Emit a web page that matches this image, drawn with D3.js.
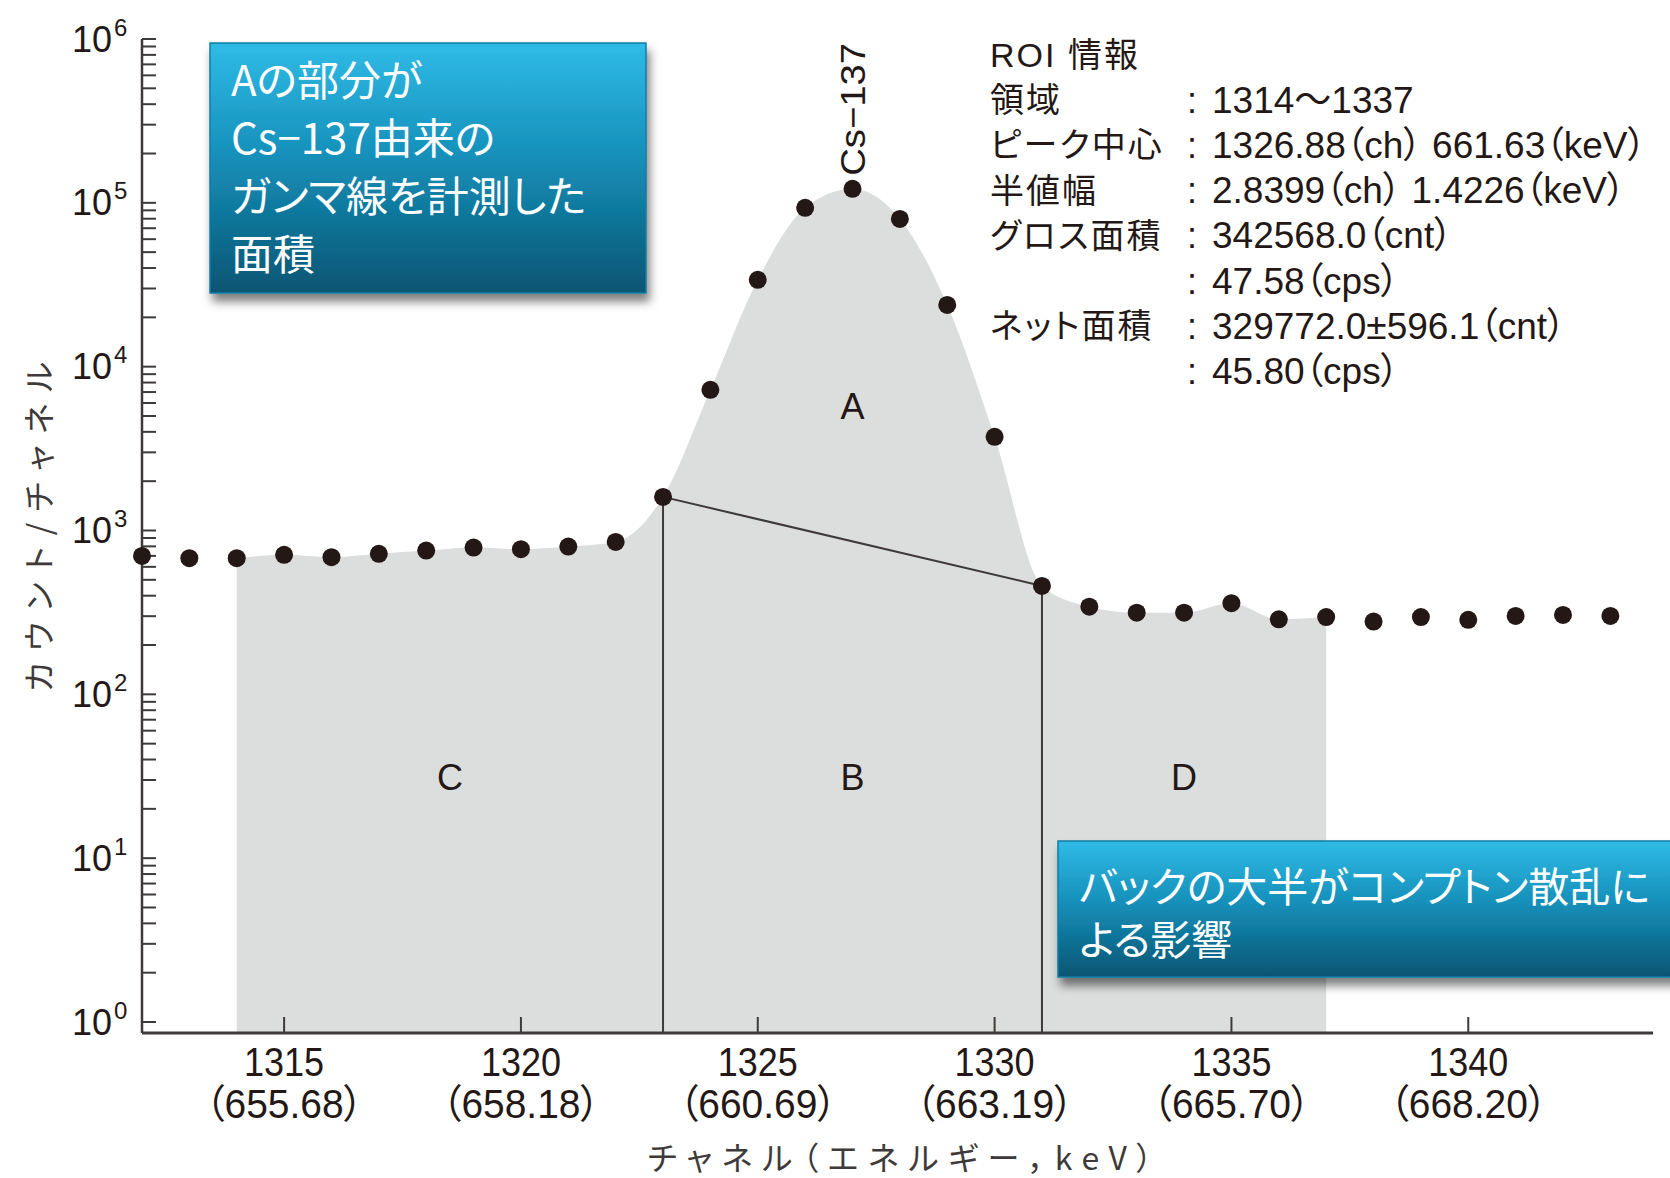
<!DOCTYPE html>
<html lang="ja">
<head>
<meta charset="utf-8">
<title>Cs-137 ROI spectrum</title>
<script src="https://cdn.jsdelivr.net/npm/d3@7/dist/d3.min.js"></script>
<style>
  html, body { margin: 0; padding: 0; background: #fff; }
  svg { display: block; font-feature-settings: "palt"; }
</style>
</head>
<body>
<div id="chart"></div>
<script>
// channel numbers and counts per channel
const channels = [1312, 1313, 1314, 1315, 1316, 1317, 1318, 1319, 1320, 1321, 1322,
  1323, 1324, 1325, 1326, 1327, 1328, 1329, 1330, 1331, 1332, 1333, 1334, 1335,
  1336, 1337, 1338, 1339, 1340, 1341, 1342, 1343];
const counts = [700, 678, 678, 710, 687, 720, 754, 787, 769, 798, 851,
  1604, 7220, 33900, 93200, 121700, 79800, 23800, 3730, 459, 343, 315, 315, 360,
  287, 296, 278, 296, 285, 301, 305, 301];

const xTickChannels = [1315, 1320, 1325, 1330, 1335, 1340];
const xTickEnergies = ['655.68', '658.18', '660.69', '663.19', '665.70', '668.20'];
const yTickExponents = [0, 1, 2, 3, 4, 5, 6];

const roiRange = [1314, 1337];
const netRange = [1323, 1331];
const peakChannel = 1327;

const areaNames = ['A', 'B', 'C', 'D'];
const areaCenters = [1327, 1327, 1318.5, 1334];
const areaLevels = [5700, 31, 31, 31];

const roiLabels = ['ROI 情報', '領域', 'ピーク中心', '半値幅', 'グロス面積', '', 'ネット面積', ''];
const roiValues = ['', '1314～1337', '1326.88（ch） 661.63（keV）', '2.8399（ch） 1.4226（keV）',
  '342568.0（cnt）', '47.58（cps）', '329772.0±596.1（cnt）', '45.80（cps）'];

const noteAreaA = ['Aの部分が', 'Cs−137由来の', 'ガンマ線を計測した', '面積'];
const noteBack = ['バックの大半がコンプトン散乱に', 'よる影響'];

const colorInfo = {
  ink: '#231815',
  axis: '#3e3a39',
  fill: '#dcdddd',
};

const width = 1670;
const height = 1178;
const baseY = 1033;
const jpFont = "'Noto Sans CJK JP', sans-serif";
const latinFont = "'Liberation Sans', 'Noto Sans CJK JP', sans-serif";

const svg = d3.select('#chart')
  .append('svg')
  .attr('width', width)
  .attr('height', height);

const defs = svg.append('defs');

const grad = defs.append('linearGradient')
  .attr('id', 'noteFill')
  .attr('x1', 0).attr('y1', 0).attr('x2', 0).attr('y2', 1);
grad.append('stop').attr('offset', '0%').attr('stop-color', '#2fbbe6');
grad.append('stop').attr('offset', '45%').attr('stop-color', '#1590ba');
grad.append('stop').attr('offset', '100%').attr('stop-color', '#0a5572');

const shadow = defs.append('filter')
  .attr('id', 'noteShadow')
  .attr('x', '-10%').attr('y', '-10%')
  .attr('width', '130%').attr('height', '140%');
shadow.append('feDropShadow')
  .attr('dx', 3).attr('dy', 8)
  .attr('stdDeviation', 5)
  .attr('flood-color', '#000')
  .attr('flood-opacity', 0.5);

const x = d3.scaleLinear()
  .domain([1312, 1343.9])
  .range([142, 1653]);

const y = d3.scaleLog()
  .domain([1, 1e6])
  .range([1022, 39]);

const points = channels.map((c, i) => [c, counts[i]]);
const roiPoints = points.filter(d => d[0] >= roiRange[0] && d[0] <= roiRange[1]);
const countAt = c => counts[channels.indexOf(c)];

// gray ROI area
const area = d3.area()
  .x(d => x(d[0]))
  .y0(baseY)
  .y1(d => y(d[1]))
  .curve(d3.curveMonotoneX);

svg.append('path')
  .datum(roiPoints)
  .attr('d', area)
  .attr('fill', colorInfo.fill);

// net area boundaries
const chart = svg.append('g');

chart.selectAll('line.edge')
  .data(netRange)
  .join('line')
    .attr('class', 'edge')
    .attr('x1', d => x(d))
    .attr('x2', d => x(d))
    .attr('y1', d => y(countAt(d)))
    .attr('y2', baseY)
    .attr('stroke', colorInfo.axis)
    .attr('stroke-width', 2);

chart.append('line')
  .attr('x1', x(netRange[0]))
  .attr('y1', y(countAt(netRange[0])))
  .attr('x2', x(netRange[1]))
  .attr('y2', y(countAt(netRange[1])))
  .attr('stroke', colorInfo.axis)
  .attr('stroke-width', 2);

// area names
chart.selectAll('text.area-name')
  .data(areaNames)
  .join('text')
    .attr('class', 'area-name')
    .attr('x', (d, i) => x(areaCenters[i]))
    .attr('y', (d, i) => y(areaLevels[i]))
    .attr('text-anchor', 'middle')
    .attr('dominant-baseline', 'central')
    .attr('font-family', latinFont)
    .attr('font-size', 36)
    .attr('fill', colorInfo.ink)
    .text(d => d);

// y axis
const yAxis = svg.append('g');

yAxis.append('line')
  .attr('x1', x.range()[0]).attr('x2', x.range()[0])
  .attr('y1', y(1e6)).attr('y2', baseY)
  .attr('stroke', colorInfo.axis)
  .attr('stroke-width', 2.5);

const minorTicks = [];
yTickExponents.slice(0, -1).forEach(e => {
  d3.range(2, 10).forEach(m => minorTicks.push(m * 10 ** e));
});
const allTicks = yTickExponents.map(e => 10 ** e).concat(minorTicks);

yAxis.selectAll('line.tick')
  .data(allTicks)
  .join('line')
    .attr('class', 'tick')
    .attr('x1', x.range()[0])
    .attr('x2', x.range()[0] + 14)
    .attr('y1', d => y(d))
    .attr('y2', d => y(d))
    .attr('stroke', colorInfo.axis)
    .attr('stroke-width', 2);

yAxis.selectAll('text.ylabel')
  .data(yTickExponents)
  .join('text')
    .attr('class', 'ylabel')
    .attr('x', 112)
    .attr('y', d => y(10 ** d))
    .attr('text-anchor', 'end')
    .attr('dominant-baseline', 'central')
    .attr('font-family', latinFont)
    .attr('font-size', 36)
    .attr('fill', colorInfo.ink)
    .text('10');

yAxis.selectAll('text.yexp')
  .data(yTickExponents)
  .join('text')
    .attr('class', 'yexp')
    .attr('x', 114)
    .attr('y', d => y(10 ** d) - 12)
    .attr('dominant-baseline', 'central')
    .attr('font-family', latinFont)
    .attr('font-size', 24)
    .attr('fill', colorInfo.ink)
    .text(d => d);

svg.append('text')
  .attr('transform', `translate(37, 527) rotate(-90)`)
  .attr('text-anchor', 'middle')
  .attr('dominant-baseline', 'central')
  .attr('font-family', jpFont)
  .attr('font-size', 32)
  .attr('textLength', 330)
  .attr('lengthAdjust', 'spacing')
  .attr('fill', colorInfo.axis)
  .text('カウント/チャネル');

// x axis
const xAxis = svg.append('g');

xAxis.append('line')
  .attr('x1', x.range()[0]).attr('x2', x.range()[1])
  .attr('y1', baseY).attr('y2', baseY)
  .attr('stroke', colorInfo.axis)
  .attr('stroke-width', 3);

xAxis.selectAll('line.tick')
  .data(xTickChannels)
  .join('line')
    .attr('class', 'tick')
    .attr('x1', d => x(d)).attr('x2', d => x(d))
    .attr('y1', baseY).attr('y2', baseY - 16)
    .attr('stroke', colorInfo.axis)
    .attr('stroke-width', 2);

// condensed look: squeeze the labels to the widths seen in the picture
xAxis.selectAll('text.ch')
  .data(xTickChannels)
  .join('text')
    .attr('class', 'ch')
    .attr('x', d => x(d))
    .attr('y', 1062)
    .attr('text-anchor', 'middle')
    .attr('dominant-baseline', 'central')
    .attr('font-family', latinFont)
    .attr('font-size', 40)
    .attr('textLength', 80)
    .attr('lengthAdjust', 'spacingAndGlyphs')
    .attr('fill', colorInfo.ink)
    .text(d => d);

xAxis.selectAll('text.kev')
  .data(xTickEnergies)
  .join('text')
    .attr('class', 'kev')
    .attr('x', (d, i) => x(xTickChannels[i]))
    .attr('y', 1104)
    .attr('text-anchor', 'middle')
    .attr('dominant-baseline', 'central')
    .attr('font-family', latinFont)
    .attr('font-size', 40)
    .attr('textLength', 158)
    .attr('lengthAdjust', 'spacingAndGlyphs')
    .attr('fill', colorInfo.ink)
    .text(d => `（${d}）`);

svg.append('text')
  .attr('x', 900)
  .attr('y', 1156)
  .attr('text-anchor', 'middle')
  .attr('dominant-baseline', 'central')
  .attr('font-family', jpFont)
  .attr('font-size', 32)
  .attr('textLength', 505)
  .attr('lengthAdjust', 'spacing')
  .attr('fill', colorInfo.axis)
  .text('チャネル（エネルギー，keV）');

// data points
svg.append('g')
  .selectAll('circle')
  .data(points)
  .join('circle')
    .attr('cx', d => x(d[0]))
    .attr('cy', d => y(d[1]))
    .attr('r', 9)
    .attr('fill', colorInfo.ink);

// peak label
svg.append('text')
  .attr('transform', `translate(${x(peakChannel)}, ${y(countAt(peakChannel)) - 13}) rotate(-90)`)
  .attr('dominant-baseline', 'central')
  .attr('font-family', latinFont)
  .attr('font-size', 35)
  .attr('textLength', 133)
  .attr('lengthAdjust', 'spacingAndGlyphs')
  .attr('fill', colorInfo.ink)
  .text('Cs−137');

// ROI info block
const roi = svg.append('g');
const roiY = i => 55 + i * 45.2;

roi.selectAll('text.roi-label')
  .data(roiLabels)
  .join('text')
    .attr('class', 'roi-label')
    .attr('x', 990)
    .attr('y', (d, i) => roiY(i))
    .attr('dominant-baseline', 'central')
    .attr('font-family', latinFont)
    .attr('font-size', 34)
    .attr('letter-spacing', 2)
    .attr('fill', colorInfo.ink)
    .text(d => d);

roi.selectAll('text.roi-colon')
  .data(roiValues.filter(d => d))
  .join('text')
    .attr('class', 'roi-colon')
    .attr('x', 1192)
    .attr('y', d => roiY(roiValues.indexOf(d)))
    .attr('text-anchor', 'middle')
    .attr('dominant-baseline', 'central')
    .attr('font-family', latinFont)
    .attr('font-size', 36)
    .attr('fill', colorInfo.ink)
    .text(':');

roi.selectAll('text.roi-value')
  .data(roiValues)
  .join('text')
    .attr('class', 'roi-value')
    .attr('x', 1212)
    .attr('y', (d, i) => roiY(i))
    .attr('dominant-baseline', 'central')
    .attr('font-family', latinFont)
    .attr('font-size', 37)
    .attr('fill', colorInfo.ink)
    .text(d => d);

// callout boxes
const drawNote = (box, lines) => {
  const g = svg.append('g');
  g.append('rect')
    .attr('x', box.x).attr('y', box.y)
    .attr('width', box.w).attr('height', box.h)
    .attr('fill', 'url(#noteFill)')
    .attr('stroke', '#127ea4')
    .attr('stroke-width', 1.5)
    .attr('filter', 'url(#noteShadow)');
  g.selectAll('text')
    .data(lines)
    .join('text')
      .attr('x', box.x + box.padX)
      .attr('y', (d, i) => box.y + box.firstY + i * box.lineHeight)
      .attr('dominant-baseline', 'central')
      .attr('font-family', jpFont)
      .attr('font-size', box.fontSize)
      .attr('fill', '#fff')
      .text(d => d);
};

drawNote({ x: 210, y: 43, w: 436, h: 250, padX: 21, firstY: 34, lineHeight: 58, fontSize: 42 }, noteAreaA);
drawNote({ x: 1058, y: 841, w: 640, h: 136, padX: 21, firstY: 43, lineHeight: 53, fontSize: 41 }, noteBack);
</script>
</body>
</html>
